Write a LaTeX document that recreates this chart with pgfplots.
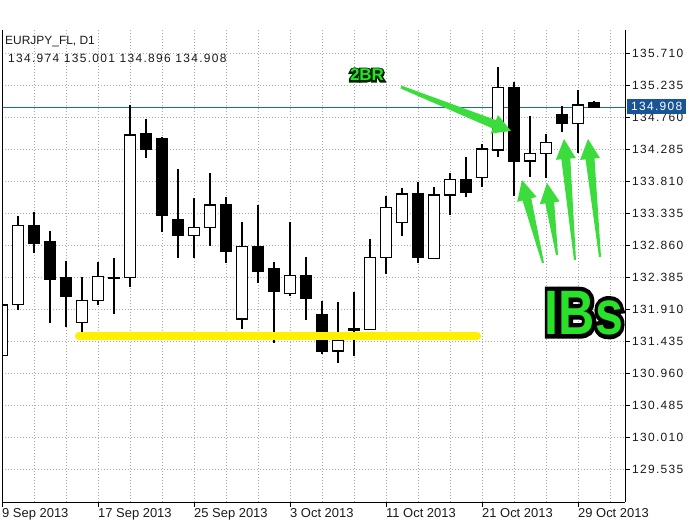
\documentclass[border=0pt]{standalone}
\usepackage{pgfplots}
\pgfplotsset{compat=1.18}
\usepgfplotslibrary{statistics}
\usetikzlibrary{calc}
\usepackage{graphicx}
\usepackage{fontspec}
\setmainfont{Liberation Sans}
\newfontfamily\tickfont[LetterSpace=11]{Liberation Sans}
\newfontfamily\oboldA[BoldFeatures={FakeBold=20}]{Liberation Sans}
\newfontfamily\oboldB[BoldFeatures={FakeBold=14}]{Liberation Sans}

\definecolor{gridgray}{RGB}{170,170,170}
\definecolor{priceblue}{RGB}{20,100,210}
\definecolor{labelblue}{RGB}{25,85,150}
\definecolor{hiyellow}{RGB}{255,240,0}
\definecolor{txtgreen}{RGB}{40,225,40}
\definecolor{arrgreen}{RGB}{60,220,60}

% candle macros: #1 index, #2 open, #3 high, #4 low, #5 close
\newcommand{\up}[5]{\addplot[draw=black, fill=white, line width=1.3bp, boxplot prepared={draw position=#1, lower whisker=#4, lower quartile=#2, median=#2, upper quartile=#5, upper whisker=#3}] coordinates {};}
\newcommand{\dn}[5]{\addplot[draw=black, fill=black, line width=1.3bp, boxplot prepared={draw position=#1, lower whisker=#4, lower quartile=#5, median=#5, upper quartile=#2, upper whisker=#3}] coordinates {};}

% tapered arrow: #1 tail, #2 tip, #3 head length, #4 head half width, #5 shaft half width at head, #6 tail half width
\newcommand{\garrow}[6]{%
  \coordinate (A) at (#1); \coordinate (B) at (#2);
  \coordinate (H) at ($(B)!#3!(A)$);
  \fill[arrgreen] ($(A)!#6!90:(B)$) -- ($(H)!#5!90:(B)$) -- ($(H)!#4!90:(B)$) -- (B)
    -- ($(H)!#4!-90:(B)$) -- ($(H)!#5!-90:(B)$) -- ($(A)!#6!-90:(B)$) -- cycle;}

\begin{document}
\begin{tikzpicture}
\useasboundingbox (0,0) rectangle (700bp,520bp);
% current price line (134.908), drawn under the candles
\fill[priceblue] (2bp,411.9bp) rectangle (625bp,413.2bp);
\begin{axis}[
  at={(2bp,18bp)}, anchor=south west,
  scale only axis, width=623bp, height=472bp,
  xmin=0, xmax=38.9375, ymin=129.05, ymax=136.056,
  axis x line*=bottom, axis y line*=right,
  axis line style={black, line width=1bp},
  xtick={0,6,12,18,24,30,36},
  xticklabels={9 Sep 2013,17 Sep 2013,25 Sep 2013,3 Oct 2013,11 Oct 2013,21 Oct 2013,29 Oct 2013},
  minor xtick={2,4,8,10,14,16,20,22,26,28,32,34,38},
  ytick={129.535,130.010,130.485,130.960,131.435,131.910,132.385,132.860,133.335,133.810,134.285,134.760,135.235,135.710},
  scaled y ticks=false,
  xmajorgrids, ymajorgrids, xminorgrids,
  grid style={gridgray, line width=0.8bp, dash pattern=on 1bp off 2bp},
  tick align=outside, major tick length=5bp, minor tick length=0pt,
  tick style={black, line width=0.8bp},
  x tick label style={font=\fontsize{13}{14}\selectfont, text=black!90, anchor=north west, inner sep=0pt, yshift=-1bp},
  y tick label style={font=\tickfont\fontsize{12}{14}\selectfont, text=black!90, anchor=west, inner sep=0pt, xshift=2bp,
     /pgf/number format/fixed, /pgf/number format/fixed zerofill, /pgf/number format/precision=3, /pgf/number format/1000 sep={}},
  /pgf/number format/assume math mode=true,
  boxplot/draw direction=y, boxplot/box extend=0.66, boxplot/whisker extend=0,
  clip=true,
]
\up{0}{131.221}{132.05}{131.15}{131.974}
\up{1}{131.984}{133.295}{131.900}{133.151}
\dn{2}{133.151}{133.359}{132.741}{132.890}
\dn{3}{132.914}{133.077}{131.702}{132.355}
\dn{4}{132.379}{132.632}{131.652}{132.108}
\up{5}{131.711}{132.394}{131.563}{132.038}
\up{6}{132.038}{132.617}{131.974}{132.394}
\up{7}{132.372}{132.667}{131.840}{132.385}
\up{8}{132.385}{134.943}{132.237}{134.497}
\dn{9}{134.523}{134.735}{134.151}{134.285}
\dn{10}{134.448}{134.465}{133.062}{133.310}
\dn{11}{133.236}{133.993}{132.667}{133.003}
\up{12}{133.003}{133.558}{132.667}{133.121}
\up{13}{133.121}{133.929}{132.850}{133.458}
\dn{14}{133.458}{133.573}{132.602}{132.776}
\up{15}{131.766}{133.210}{131.618}{132.839}
\dn{16}{132.839}{133.458}{132.305}{132.479}
\dn{17}{132.519}{132.617}{131.414}{132.171}
\up{18}{132.148}{133.202}{132.110}{132.409}
\dn{19}{132.409}{132.682}{131.751}{132.073}
\dn{20}{131.836}{132.038}{131.247}{131.291}
\up{21}{131.291}{132.023}{131.118}{131.444}
\up{22}{131.605}{132.171}{131.217}{131.620}
\up{23}{131.613}{132.949}{131.600}{132.682}
\up{24}{132.676}{133.596}{132.434}{133.424}
\up{25}{133.196}{133.715}{132.998}{133.622}
\dn{26}{133.622}{133.804}{132.593}{132.676}
\up{27}{132.667}{133.730}{132.657}{133.607}
\up{28}{133.607}{133.938}{133.310}{133.840}
\dn{29}{133.840}{134.175}{133.582}{133.647}
\up{30}{133.869}{134.364}{133.730}{134.290}
\up{31}{134.275}{135.511}{134.166}{135.205}
\dn{32}{135.205}{135.280}{133.592}{134.111}
\up{33}{134.111}{134.779}{133.869}{134.226}
\up{34}{134.226}{134.512}{133.864}{134.389}
\dn{35}{134.794}{134.928}{134.537}{134.671}
\up{36}{134.671}{135.165}{134.235}{134.943}
\dn{37}{134.974}{135.001}{134.896}{134.908}

\draw[black, line width=1bp] (rel axis cs:0,0) -- (rel axis cs:0,1);
\addplot[hiyellow, line width=8bp, line cap=round] coordinates {(4.81,131.514) (29.69,131.514)};
\end{axis}

\begin{scope}[shift={(0,520bp)}, x=1bp, y=-1bp]
  \node[anchor=west, inner sep=0pt, font=\fontsize{12}{14}\selectfont, text=black!90] at (5,42) {EURJPY\_FL, D1};
  \node[anchor=west, inner sep=0pt, font=\tickfont\fontsize{12}{14}\selectfont, text=black!90] at (8,58) {134.974 135.001 134.896 134.908};
  \fill[labelblue] (627,99) rectangle (686,114);
  \node[anchor=west, inner sep=0pt, text=white, font=\tickfont\fontsize{12}{14}\selectfont] at (631,106.5) {134.908};

  \garrow{401,87}{511,131}{18bp}{10bp}{4.5bp}{1.5bp}
  \garrow{543,263}{522,180}{20bp}{10bp}{4.5bp}{1bp}
  \garrow{557,255}{547,183}{20bp}{10bp}{4.5bp}{1bp}
  \garrow{575,260}{564,139}{20bp}{10bp}{4.5bp}{1bp}
  \garrow{600,257}{588,139}{20bp}{10bp}{4.5bp}{1bp}

  % outlined labels: a heavily emboldened dark copy under a green copy
  \node[inner sep=0pt, text=black!85!green, font=\oboldA\bfseries\fontsize{17}{20}\selectfont] at (367,75) {2BR};
  \node[inner sep=0pt, text=txtgreen, font=\bfseries\fontsize{17}{20}\selectfont] at (367,75) {2BR};
  \node[inner sep=0pt, text=black, font=\oboldB\bfseries\fontsize{63}{70}\selectfont] at (584,313) {\scalebox{0.8}[1]{IBs}};
  \node[inner sep=0pt, text=txtgreen, font=\bfseries\fontsize{63}{70}\selectfont] at (584,313) {\scalebox{0.8}[1]{IBs}};
\end{scope}
\end{tikzpicture}
\end{document}
